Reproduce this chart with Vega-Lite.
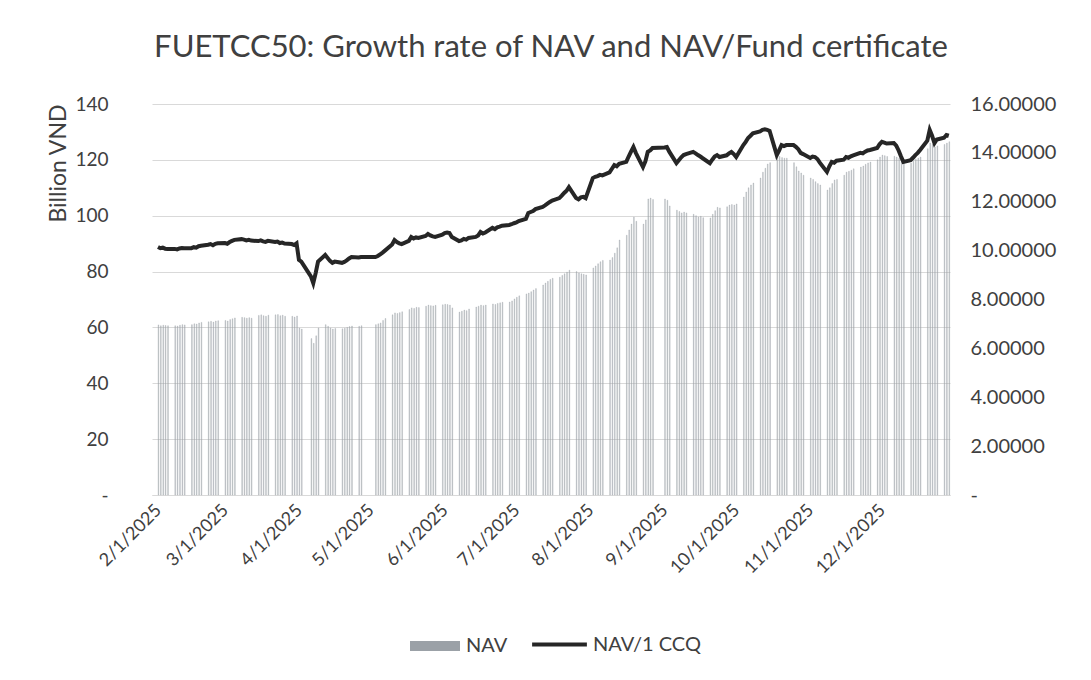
{
"$schema": "https://vega.github.io/schema/vega-lite/v6.json",
"width": 798,
"height": 391,
"autosize": {"type": "none"},
"padding": {"left": 152, "top": 104, "right": 141, "bottom": 185},
"background": "white",
"config": {"font": "Lato", "view": {"stroke": null}, "axis": {"labelColor": "#404040", "titleColor": "#404040", "labelFont": "Lato", "titleFont": "Lato"}},
"title": {"text": "FUETCC50: Growth rate of NAV and NAV/Fund certificate", "fontSize": 31, "fontWeight": "normal", "color": "#404040", "offset": 30, "anchor": "middle", "font": "Lato"},
"data": {"format": {"parse": {"date": "date:'%Y-%m-%d'"}}, "values": [
{"date":"2025-02-03","nav":60.9,"ccq":10.15},{"date":"2025-02-04","nav":60.6,"ccq":10.10},{"date":"2025-02-05","nav":60.8,"ccq":10.12},{"date":"2025-02-06","nav":60.7,"ccq":10.08},{"date":"2025-02-07","nav":60.6,"ccq":10.07},
{"date":"2025-02-10","nav":60.6,"ccq":10.07},{"date":"2025-02-11","nav":60.5,"ccq":10.05},{"date":"2025-02-12","nav":60.8,"ccq":10.09},{"date":"2025-02-13","nav":61.0,"ccq":10.11},{"date":"2025-02-14","nav":60.9,"ccq":10.10},
{"date":"2025-02-17","nav":61.0,"ccq":10.10},{"date":"2025-02-18","nav":61.3,"ccq":10.14},{"date":"2025-02-19","nav":61.2,"ccq":10.12},{"date":"2025-02-20","nav":61.6,"ccq":10.18},{"date":"2025-02-21","nav":61.8,"ccq":10.20},
{"date":"2025-02-24","nav":62.0,"ccq":10.24},{"date":"2025-02-25","nav":62.2,"ccq":10.27},{"date":"2025-02-26","nav":61.9,"ccq":10.22},{"date":"2025-02-27","nav":62.3,"ccq":10.28},{"date":"2025-02-28","nav":62.4,"ccq":10.30},
{"date":"2025-03-03","nav":62.5,"ccq":10.31},{"date":"2025-03-04","nav":62.3,"ccq":10.28},{"date":"2025-03-05","nav":62.8,"ccq":10.35},{"date":"2025-03-06","nav":63.1,"ccq":10.40},{"date":"2025-03-07","nav":63.4,"ccq":10.44},
{"date":"2025-03-10","nav":63.6,"ccq":10.47},{"date":"2025-03-11","nav":63.5,"ccq":10.45},{"date":"2025-03-12","nav":63.3,"ccq":10.42},{"date":"2025-03-13","nav":63.5,"ccq":10.44},{"date":"2025-03-14","nav":63.3,"ccq":10.41},
{"date":"2025-03-17","nav":64.3,"ccq":10.39},{"date":"2025-03-18","nav":64.5,"ccq":10.42},{"date":"2025-03-19","nav":64.2,"ccq":10.38},{"date":"2025-03-20","nav":64.0,"ccq":10.36},{"date":"2025-03-21","nav":64.4,"ccq":10.40},
{"date":"2025-03-24","nav":64.5,"ccq":10.35},{"date":"2025-03-25","nav":64.6,"ccq":10.37},{"date":"2025-03-26","nav":64.2,"ccq":10.31},{"date":"2025-03-27","nav":64.4,"ccq":10.33},{"date":"2025-03-28","nav":64.0,"ccq":10.29},
{"date":"2025-03-31","nav":64.0,"ccq":10.27},{"date":"2025-04-01","nav":63.7,"ccq":10.23},{"date":"2025-04-02","nav":64.1,"ccq":10.30},{"date":"2025-04-03","nav":59.8,"ccq":9.62},{"date":"2025-04-04","nav":59.4,"ccq":9.55},
{"date":"2025-04-08","nav":56.0,"ccq":8.95},{"date":"2025-04-09","nav":54.3,"ccq":8.67},{"date":"2025-04-10","nav":57.0,"ccq":9.08},{"date":"2025-04-11","nav":59.8,"ccq":9.55},
{"date":"2025-04-14","nav":61.0,"ccq":9.82},{"date":"2025-04-15","nav":60.4,"ccq":9.70},{"date":"2025-04-16","nav":59.8,"ccq":9.58},{"date":"2025-04-17","nav":59.4,"ccq":9.50},{"date":"2025-04-18","nav":59.6,"ccq":9.55},
{"date":"2025-04-21","nav":59.5,"ccq":9.50},{"date":"2025-04-22","nav":59.7,"ccq":9.54},{"date":"2025-04-23","nav":60.0,"ccq":9.60},{"date":"2025-04-24","nav":60.3,"ccq":9.68},{"date":"2025-04-25","nav":60.5,"ccq":9.74},
{"date":"2025-04-28","nav":60.4,"ccq":9.72},{"date":"2025-04-29","nav":60.6,"ccq":9.74},
{"date":"2025-05-05","nav":61.0,"ccq":9.74},{"date":"2025-05-06","nav":61.3,"ccq":9.78},{"date":"2025-05-07","nav":61.6,"ccq":9.85},{"date":"2025-05-08","nav":62.5,"ccq":9.92},{"date":"2025-05-09","nav":63.2,"ccq":10.00},
{"date":"2025-05-12","nav":64.5,"ccq":10.25},{"date":"2025-05-13","nav":65.2,"ccq":10.43},{"date":"2025-05-14","nav":65.0,"ccq":10.35},{"date":"2025-05-15","nav":65.3,"ccq":10.30},{"date":"2025-05-16","nav":65.6,"ccq":10.27},
{"date":"2025-05-19","nav":66.4,"ccq":10.40},{"date":"2025-05-20","nav":67.0,"ccq":10.56},{"date":"2025-05-21","nav":66.8,"ccq":10.50},{"date":"2025-05-22","nav":67.2,"ccq":10.54},{"date":"2025-05-23","nav":67.1,"ccq":10.52},
{"date":"2025-05-26","nav":67.6,"ccq":10.60},{"date":"2025-05-27","nav":68.0,"ccq":10.68},{"date":"2025-05-28","nav":67.8,"ccq":10.62},{"date":"2025-05-29","nav":67.7,"ccq":10.58},{"date":"2025-05-30","nav":67.9,"ccq":10.56},
{"date":"2025-06-02","nav":68.1,"ccq":10.65},{"date":"2025-06-03","nav":68.3,"ccq":10.72},{"date":"2025-06-04","nav":68.2,"ccq":10.74},{"date":"2025-06-05","nav":68.0,"ccq":10.72},{"date":"2025-06-06","nav":67.0,"ccq":10.56},
{"date":"2025-06-09","nav":65.5,"ccq":10.39},{"date":"2025-06-10","nav":65.8,"ccq":10.42},{"date":"2025-06-11","nav":66.2,"ccq":10.48},{"date":"2025-06-12","nav":66.0,"ccq":10.45},{"date":"2025-06-13","nav":66.6,"ccq":10.52},
{"date":"2025-06-16","nav":67.3,"ccq":10.56},{"date":"2025-06-17","nav":67.6,"ccq":10.62},{"date":"2025-06-18","nav":68.0,"ccq":10.76},{"date":"2025-06-19","nav":67.8,"ccq":10.70},{"date":"2025-06-20","nav":68.0,"ccq":10.74},
{"date":"2025-06-23","nav":68.4,"ccq":10.93},{"date":"2025-06-24","nav":68.2,"ccq":10.88},{"date":"2025-06-25","nav":68.6,"ccq":10.95},{"date":"2025-06-26","nav":68.8,"ccq":10.98},{"date":"2025-06-27","nav":69.0,"ccq":11.02},
{"date":"2025-06-30","nav":69.1,"ccq":11.05},{"date":"2025-07-01","nav":69.5,"ccq":11.08},{"date":"2025-07-02","nav":70.2,"ccq":11.12},{"date":"2025-07-03","nav":70.8,"ccq":11.15},{"date":"2025-07-04","nav":71.3,"ccq":11.21},
{"date":"2025-07-07","nav":72.0,"ccq":11.30},{"date":"2025-07-08","nav":72.3,"ccq":11.54},{"date":"2025-07-09","nav":72.8,"ccq":11.58},{"date":"2025-07-10","nav":73.4,"ccq":11.62},{"date":"2025-07-11","nav":73.9,"ccq":11.70},
{"date":"2025-07-14","nav":75.2,"ccq":11.79},{"date":"2025-07-15","nav":75.9,"ccq":11.85},{"date":"2025-07-16","nav":76.5,"ccq":11.92},{"date":"2025-07-17","nav":77.2,"ccq":11.99},{"date":"2025-07-18","nav":77.6,"ccq":12.05},
{"date":"2025-07-21","nav":78.0,"ccq":12.15},{"date":"2025-07-22","nav":78.6,"ccq":12.25},{"date":"2025-07-23","nav":79.2,"ccq":12.36},{"date":"2025-07-24","nav":79.8,"ccq":12.45},{"date":"2025-07-25","nav":80.5,"ccq":12.60},
{"date":"2025-07-28","nav":80.0,"ccq":12.15},{"date":"2025-07-29","nav":79.5,"ccq":12.10},{"date":"2025-07-30","nav":79.2,"ccq":12.18},{"date":"2025-07-31","nav":79.0,"ccq":12.20},{"date":"2025-08-01","nav":78.8,"ccq":12.15},
{"date":"2025-08-04","nav":81.3,"ccq":12.97},{"date":"2025-08-05","nav":82.0,"ccq":13.02},{"date":"2025-08-06","nav":82.8,"ccq":13.05},{"date":"2025-08-07","nav":83.5,"ccq":13.10},{"date":"2025-08-08","nav":84.0,"ccq":13.08},
{"date":"2025-08-11","nav":84.1,"ccq":13.20},{"date":"2025-08-12","nav":85.0,"ccq":13.35},{"date":"2025-08-13","nav":86.6,"ccq":13.50},{"date":"2025-08-14","nav":88.5,"ccq":13.45},{"date":"2025-08-15","nav":91.3,"ccq":13.55},
{"date":"2025-08-18","nav":93.0,"ccq":13.63},{"date":"2025-08-19","nav":94.9,"ccq":13.85},{"date":"2025-08-20","nav":97.0,"ccq":14.05},{"date":"2025-08-21","nav":99.5,"ccq":14.24},{"date":"2025-08-22","nav":98.0,"ccq":14.00},
{"date":"2025-08-25","nav":97.0,"ccq":13.42},{"date":"2025-08-26","nav":98.5,"ccq":13.65},{"date":"2025-08-27","nav":106.0,"ccq":14.04},{"date":"2025-08-28","nav":106.3,"ccq":14.10},{"date":"2025-08-29","nav":105.8,"ccq":14.20},
{"date":"2025-09-03","nav":106.0,"ccq":14.22},{"date":"2025-09-04","nav":105.5,"ccq":14.24},{"date":"2025-09-05","nav":103.5,"ccq":14.05},
{"date":"2025-09-08","nav":102.0,"ccq":13.58},{"date":"2025-09-09","nav":101.5,"ccq":13.70},{"date":"2025-09-10","nav":101.0,"ccq":13.82},{"date":"2025-09-11","nav":101.3,"ccq":13.91},{"date":"2025-09-12","nav":101.0,"ccq":13.95},
{"date":"2025-09-15","nav":100.5,"ccq":14.04},{"date":"2025-09-16","nav":100.0,"ccq":13.98},{"date":"2025-09-17","nav":99.5,"ccq":13.91},{"date":"2025-09-18","nav":99.8,"ccq":13.85},{"date":"2025-09-19","nav":99.3,"ccq":13.78},
{"date":"2025-09-22","nav":99.2,"ccq":13.58},{"date":"2025-09-23","nav":100.5,"ccq":13.72},{"date":"2025-09-24","nav":101.8,"ccq":13.85},{"date":"2025-09-25","nav":103.0,"ccq":13.91},{"date":"2025-09-26","nav":102.8,"ccq":13.83},
{"date":"2025-09-29","nav":103.2,"ccq":13.90},{"date":"2025-09-30","nav":103.8,"ccq":13.98},{"date":"2025-10-01","nav":104.0,"ccq":14.04},{"date":"2025-10-02","nav":103.8,"ccq":13.95},{"date":"2025-10-03","nav":104.2,"ccq":13.83},
{"date":"2025-10-06","nav":106.7,"ccq":14.32},{"date":"2025-10-07","nav":108.5,"ccq":14.45},{"date":"2025-10-08","nav":110.0,"ccq":14.61},{"date":"2025-10-09","nav":111.0,"ccq":14.70},{"date":"2025-10-10","nav":111.7,"ccq":14.80},
{"date":"2025-10-13","nav":113.5,"ccq":14.88},{"date":"2025-10-14","nav":115.6,"ccq":14.94},{"date":"2025-10-15","nav":117.0,"ccq":14.96},{"date":"2025-10-16","nav":118.5,"ccq":14.94},{"date":"2025-10-17","nav":119.0,"ccq":14.90},
{"date":"2025-10-20","nav":121.0,"ccq":13.91},{"date":"2025-10-21","nav":121.2,"ccq":14.10},{"date":"2025-10-22","nav":120.8,"ccq":14.32},{"date":"2025-10-23","nav":120.6,"ccq":14.28},{"date":"2025-10-24","nav":120.6,"ccq":14.32},
{"date":"2025-10-27","nav":119.0,"ccq":14.32},{"date":"2025-10-28","nav":117.5,"ccq":14.25},{"date":"2025-10-29","nav":116.0,"ccq":14.15},{"date":"2025-10-30","nav":115.3,"ccq":14.00},{"date":"2025-10-31","nav":114.5,"ccq":13.95},
{"date":"2025-11-03","nav":113.5,"ccq":13.79},{"date":"2025-11-04","nav":113.0,"ccq":13.85},{"date":"2025-11-05","nav":112.2,"ccq":13.83},{"date":"2025-11-06","nav":111.5,"ccq":13.75},{"date":"2025-11-07","nav":111.0,"ccq":13.60},
{"date":"2025-11-10","nav":109.2,"ccq":13.22},{"date":"2025-11-11","nav":110.0,"ccq":13.45},{"date":"2025-11-12","nav":111.5,"ccq":13.63},{"date":"2025-11-13","nav":112.8,"ccq":13.60},{"date":"2025-11-14","nav":113.0,"ccq":13.68},
{"date":"2025-11-17","nav":114.5,"ccq":13.72},{"date":"2025-11-18","nav":115.6,"ccq":13.83},{"date":"2025-11-19","nav":115.9,"ccq":13.80},{"date":"2025-11-20","nav":116.3,"ccq":13.86},{"date":"2025-11-21","nav":116.8,"ccq":13.90},
{"date":"2025-11-24","nav":117.4,"ccq":14.00},{"date":"2025-11-25","nav":117.8,"ccq":13.98},{"date":"2025-11-26","nav":118.4,"ccq":14.05},{"date":"2025-11-27","nav":118.9,"ccq":14.10},{"date":"2025-11-28","nav":119.2,"ccq":14.12},
{"date":"2025-12-01","nav":120.0,"ccq":14.20},{"date":"2025-12-02","nav":121.0,"ccq":14.35},{"date":"2025-12-03","nav":121.7,"ccq":14.45},{"date":"2025-12-04","nav":121.5,"ccq":14.42},{"date":"2025-12-05","nav":121.2,"ccq":14.38},
{"date":"2025-12-08","nav":121.3,"ccq":14.40},{"date":"2025-12-09","nav":121.0,"ccq":14.30},{"date":"2025-12-10","nav":120.6,"ccq":14.10},{"date":"2025-12-11","nav":119.8,"ccq":13.85},{"date":"2025-12-12","nav":119.0,"ccq":13.63},
{"date":"2025-12-15","nav":118.8,"ccq":13.70},{"date":"2025-12-16","nav":119.5,"ccq":13.80},{"date":"2025-12-17","nav":120.2,"ccq":13.91},{"date":"2025-12-18","nav":120.6,"ccq":14.00},{"date":"2025-12-19","nav":121.0,"ccq":14.12},
{"date":"2025-12-22","nav":124.0,"ccq":14.50},{"date":"2025-12-23","nav":126.0,"ccq":14.94},{"date":"2025-12-24","nav":125.5,"ccq":14.70},{"date":"2025-12-25","nav":124.6,"ccq":14.40},{"date":"2025-12-26","nav":125.0,"ccq":14.55},
{"date":"2025-12-29","nav":125.5,"ccq":14.62},{"date":"2025-12-30","nav":126.0,"ccq":14.73},{"date":"2025-12-31","nav":126.5,"ccq":14.70}
]},
"layer": [
{"mark": {"type": "bar", "width": {"band": 0.72}, "fillOpacity": 0.62, "stroke": "#9aa1a7", "strokeWidth": 0.4, "strokeOpacity": 0.8},
 "encoding": {
  "x": {"field": "date", "timeUnit": "yearmonthdate", "type": "temporal", "title": null,
   "scale": {"domain": [{"year": 2025, "month": 2, "date": 1}, {"year": 2026, "month": 1, "date": 1}]},
   "axis": {"values": [{"year":2025,"month":2,"date":1},{"year":2025,"month":3,"date":1},{"year":2025,"month":4,"date":1},{"year":2025,"month":5,"date":1},{"year":2025,"month":6,"date":1},{"year":2025,"month":7,"date":1},{"year":2025,"month":8,"date":1},{"year":2025,"month":9,"date":1},{"year":2025,"month":10,"date":1},{"year":2025,"month":11,"date":1},{"year":2025,"month":12,"date":1}],
    "format": "%-m/%-d/%Y", "labelAngle": -45, "labelFontSize": 18, "ticks": false, "domain": true, "domainColor": "#d9d9d9", "grid": false, "labelPadding": 6, "labelOverlap": false}},
  "y": {"field": "nav", "type": "quantitative", "scale": {"domain": [0, 140], "nice": false},
   "axis": {"title": "Billion VND", "titleFontSize": 23, "titleFontWeight": "normal", "titleAnchor": "end", "titlePadding": 4, "values": [0,20,40,60,80,100,120,140], "labelExpr": "datum.value === 0 ? '-' : datum.label", "labelFontSize": 19, "labelPadding": 44, "ticks": false, "domain": false, "grid": true, "gridColor": "#d9d9d9"}},
  "fill": {"datum": "NAV", "type": "nominal", "scale": {"domain": ["NAV"], "range": ["#9ba1a7"]},
   "legend": {"orient": "none", "legendX": 258, "legendY": 517, "title": null, "labelFontSize": 20, "labelColor": "#404040", "symbolType": "M-1,-0.2H1V0.2H-1Z", "symbolSize": 2500, "symbolOpacity": 1, "symbolStrokeWidth": 0, "labelOffset": 6}}
 }},
{"mark": {"type": "line", "strokeWidth": 4},
 "encoding": {
  "x": {"field": "date", "timeUnit": "yearmonthdate", "type": "temporal", "bandPosition": 0.5},
  "y": {"field": "ccq", "type": "quantitative", "scale": {"domain": [0, 16], "nice": false},
   "axis": {"orient": "right", "title": null, "values": [0,2,4,6,8,10,12,14,16], "format": ".5f", "labelExpr": "datum.value === 0 ? '-' : datum.label", "labelFontSize": 20, "labelPadding": 20, "ticks": false, "domain": false, "grid": false}},
  "stroke": {"datum": "NAV/1 CCQ", "type": "nominal", "scale": {"domain": ["NAV/1 CCQ"], "range": ["#262626"]},
   "legend": {"orient": "none", "legendX": 378, "legendY": 511, "title": null, "labelFontSize": 20, "labelColor": "#404040", "symbolType": "stroke", "symbolSize": 3000, "symbolStrokeWidth": 4, "labelOffset": 4}}
 }}
],
"resolve": {"scale": {"y": "independent"}}
}
